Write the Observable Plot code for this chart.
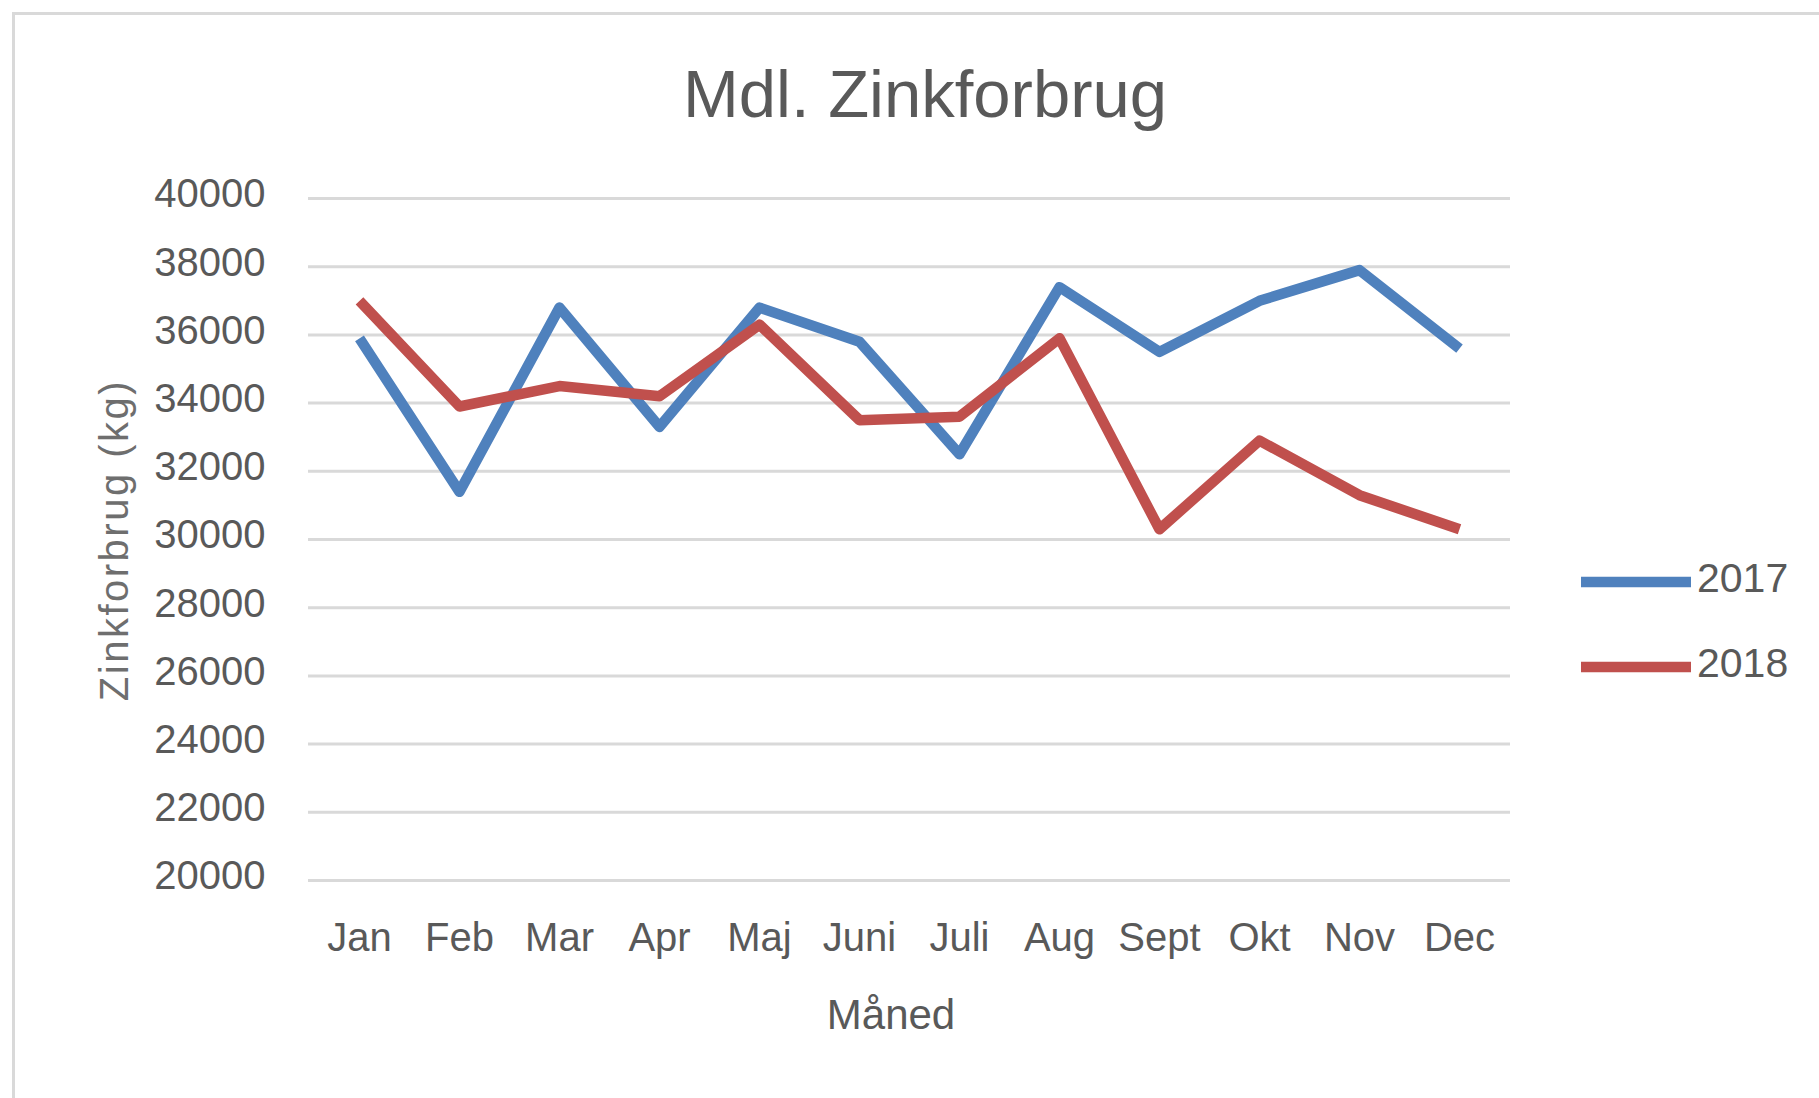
<!DOCTYPE html>
<html>
<head>
<meta charset="utf-8">
<script src="https://cdn.jsdelivr.net/npm/d3@7"></script>
<script src="https://cdn.jsdelivr.net/npm/@observablehq/plot@0.6"></script>
<style>
  html, body { margin: 0; padding: 0; background: #fff; overflow: hidden; }
  #wrap { position: relative; width: 1819px; height: 1098px; overflow: hidden; font-family: "Liberation Sans", Arial, sans-serif; color: #595959; }
  #frame { position: absolute; left: 12px; top: 12px; width: 1900px; height: 1200px; border: 3px solid #d9d9d9; box-sizing: border-box; }
  .lbl { position: absolute; white-space: nowrap; line-height: 1; }
  #plot { position: absolute; left: 0; top: 0; }
  #legend { position: absolute; left: 0; top: 0; }
</style>
</head>
<body>
<div id="wrap">
  <div id="frame"></div>
  <div id="plot"></div>
  <div class="lbl" id="title" style="left:925px; top:60px; font-size:67px; transform:translateX(-50%);">Mdl. Zinkforbrug</div>
  <div class="lbl" id="ylabel" style="left:114px; top:540px; font-size:40px; letter-spacing:2.5px; color:#6e6e6e; transform:translate(-50%,-50%) rotate(-90deg);">Zinkforbrug (kg)</div>
  <div class="lbl" id="xlabel" style="left:891px; top:994px; font-size:42px; transform:translateX(-50%);">Måned</div>
  <svg id="legend" width="1819" height="1098"></svg>
</div>
<script>
const months = ["Jan","Feb","Mar","Apr","Maj","Juni","Juli","Aug","Sept","Okt","Nov","Dec"];
const seriesNames = ["2017","2018"];
const seriesColors = ["#4F81BD","#C0504D"];
const values2017 = [35900, 31400, 36800, 33300, 36800, 35800, 32500, 37400, 35500, 37000, 37900, 35600];
const values2018 = [37000, 33900, 34500, 34200, 36300, 33500, 33600, 35900, 30300, 32900, 31300, 30300];
const yTicks = [20000, 22000, 24000, 26000, 28000, 30000, 32000, 34000, 36000, 38000, 40000];

const data = [];
months.forEach((m, i) => {
  data.push({month: m, value: values2017[i], series: seriesNames[0]});
});
months.forEach((m, i) => {
  data.push({month: m, value: values2018[i], series: seriesNames[1]});
});

const chart = Plot.plot({
  width: 1819,
  height: 1098,
  marginLeft: 308,
  marginRight: 309,
  marginTop: 198,
  marginBottom: 218,
  style: {fontFamily: "'Liberation Sans', Arial, sans-serif", color: "#595959", background: "transparent", overflow: "visible"},
  x: {type: "point", domain: months, padding: 0.5, label: null},
  y: {domain: [20000, 40000], label: null},
  color: {domain: seriesNames, range: seriesColors},
  marks: [
    Plot.gridY(yTicks, {stroke: "#d9d9d9", strokeOpacity: 1, strokeWidth: 3}),
    Plot.axisY(yTicks, {tickSize: 0, tickPadding: 43, fontSize: 40, dy: -4, tickFormat: d => String(d), label: null}),
    Plot.axisX({tickSize: 0, tickPadding: 42, fontSize: 40, label: null}),
    Plot.line(data, {x: "month", y: "value", z: "series", stroke: "series", strokeWidth: 10.5, strokeLinejoin: "round", strokeLinecap: "butt"})
  ]
});
document.getElementById("plot").appendChild(chart);

// legend
const lg = d3.select("#legend");
const legendX0 = 1581, legendX1 = 1691, legendY0 = 582, legendStep = 85;
seriesNames.forEach((name, i) => {
  const y = legendY0 + i * legendStep;
  lg.append("line").attr("x1", legendX0).attr("x2", legendX1).attr("y1", y).attr("y2", y)
    .attr("stroke", seriesColors[i]).attr("stroke-width", 10.5);
  lg.append("text").attr("x", 1697).attr("y", y + 10).attr("font-size", 41)
    .attr("font-family", "'Liberation Sans', Arial, sans-serif").attr("fill", "#595959").text(name);
});
</script>
</body>
</html>
